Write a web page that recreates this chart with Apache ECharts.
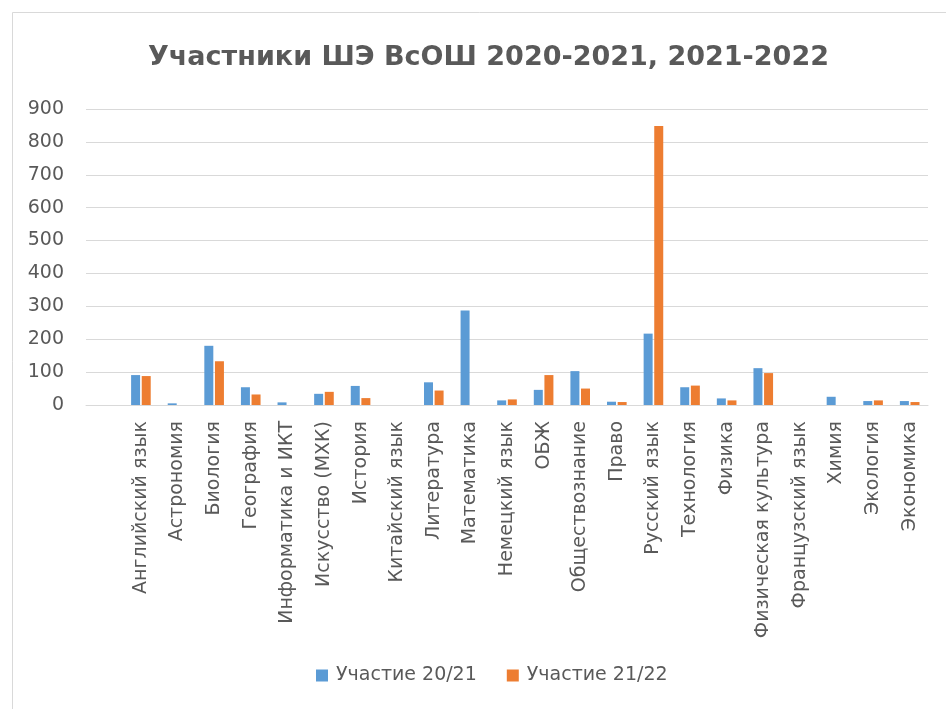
<!DOCTYPE html>
<html>
<head>
<meta charset="utf-8">
<script src="https://cdn.jsdelivr.net/npm/echarts@6/dist/echarts.min.js"></script>
<style>
html,body{margin:0;padding:0;background:#fff;}
#c{width:946px;height:709px;}
</style>
</head>
<body>
<div id="c"></div>
<script>
const categories = ['', 'Английский язык', 'Астрономия', 'Биология', 'География', 'Информатика и ИКТ', 'Искусство (МХК)', 'История', 'Китайский язык', 'Литература', 'Математика', 'Немецкий язык', 'ОБЖ', 'Обществознание', 'Право', 'Русский язык', 'Технология', 'Физика', 'Физическая культура', 'Французский язык', 'Химия', 'Экология', 'Экономика'];
const series2021 = [null, 91, 5, 180, 54, 8, 34, 58, 0, 69, 287, 14, 46, 103, 10, 217, 54, 20, 112, 0, 25, 12, 12];
const series2122 = [null, 88, 0, 133, 32, 0, 40, 21, 0, 44, 0, 17, 91, 50, 9, 848, 59, 14, 97, 0, 0, 14, 9];
const seriesNames = ['Участие 20/21', 'Участие 21/22'];
const yTicks = [0, 100, 200, 300, 400, 500, 600, 700, 800, 900];

const chart = echarts.init(document.getElementById('c'), null, {renderer: 'canvas'});
const font = 'DejaVu Sans';
chart.setOption({
  animation: false,
  backgroundColor: '#fff',
  graphic: [{
    type: 'rect', left: 10, top: 10,
    shape: {width: 960, height: 720},
    style: {fill: 'none', stroke: '#d9d9d9', lineWidth: 1}
  }],
  title: {
    text: 'Участники ШЭ ВсОШ 2020-2021, 2021-2022',
    left: 143, top: 39,
    textStyle: {fontFamily: font, fontSize: 27, fontWeight: 'bold', color: '#595959'}
  },
  legend: {
    bottom: 19, left: 311,
    itemWidth: 12, itemHeight: 12, itemGap: 30,
    icon: 'rect',
    textStyle: {fontFamily: font, fontSize: 19, color: '#595959', padding: [0, 0, 0, 3]},
    data: seriesNames
  },
  grid: {left: 86, right: 18, top: 109, bottom: 304, containLabel: false},
  xAxis: {
    type: 'category',
    data: categories,
    axisLine: {lineStyle: {color: '#d9d9d9'}},
    axisTick: {show: false},
    axisLabel: {rotate: 90, interval: 0, margin: 16, fontFamily: font, fontSize: 19, color: '#595959'}
  },
  yAxis: {
    type: 'value', min: yTicks[0], max: yTicks[yTicks.length - 1], interval: 100,
    axisLine: {show: false},
    axisTick: {show: false},
    splitLine: {lineStyle: {color: '#d9d9d9'}},
    axisLabel: {margin: 22, fontFamily: font, fontSize: 19, color: '#595959'}
  },
  series: [
    {name: seriesNames[0], type: 'bar', data: series2021, barWidth: 9, barGap: '18%', itemStyle: {color: '#5B9BD5'}},
    {name: seriesNames[1], type: 'bar', data: series2122, barWidth: 9, barGap: '18%', itemStyle: {color: '#ED7D31'}}
  ]
});
</script>
</body>
</html>
